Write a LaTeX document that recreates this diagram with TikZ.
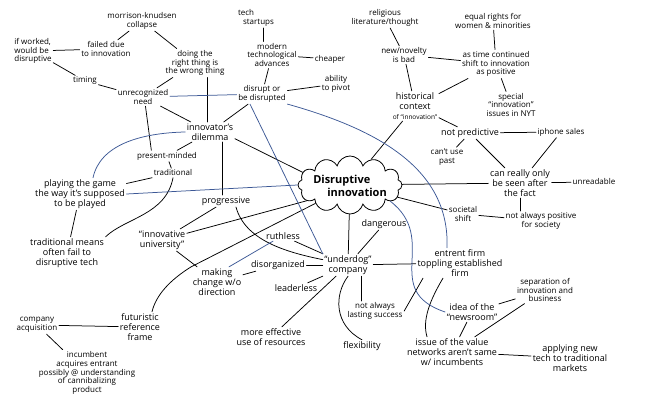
\documentclass[tikz,border=0pt]{standalone}
\usepackage{fontspec}
\setmainfont{Open Sans}
\usetikzlibrary{shapes.symbols}
\definecolor{inkblue}{RGB}{60,88,150}
\begin{document}
\begin{tikzpicture}[x=1pt,y=-1pt,
  every node/.style={font=\fontsize{8}{8.8}\selectfont, align=center, inner sep=1.5pt, text=black},
  big/.style={font=\fontsize{9}{10}\selectfont},
  link/.style={draw=black, line width=0.75pt, line cap=round},
  bluelink/.style={draw=inkblue, line width=0.75pt, line cap=round}]
\useasboundingbox (0,0) rectangle (650,406);
\fill[white] (0,0) rectangle (650,406);
% top-left cluster
\node (mk) at (142,21) {morrison-knudsen\\collapse};
\node[align=left] (ifw) at (33,51) {if worked,\\would be\\disruptive};
\node (fail) at (106,49) {failed due\\to innovation};
\node (doing) at (195,63) {doing the\\right thing is\\the wrong thing};
\node (timing) at (85,81) {timing};
\node (unrec) at (143,97) {unrecognized\\need};
\node[align=left] (tech) at (256,18) {tech\\\hspace*{5pt}startups};
\node (modern) at (272,55) {modern\\technological\\advances};
\node (cheaper) at (330,59) {cheaper};
\node (pivot) at (336,84) {ability\\to pivot};
\node (disrupt) at (262,94) {disrupt or\\be disrupted};
\node[big] (dilemma) at (210,132) {innovator's\\dilemma};
% top-right cluster
\node (relig) at (385,18) {religious\\literature/thought};
\node (novelty) at (404,55) {new/novelty\\is bad};
\node[big] (hist) at (415,106) {historical\\context\\{\fontsize{6.5}{7}\selectfont of “innovation”}};
\node (equal) at (493,21) {equal rights for\\women \& minorities};
\node (astime) at (496,64) {as time continued\\shift to innovation\\as positive};
\node (special) at (511,105) {special\\“innovation”\\issues in NYT};
\node[big] (notpred) at (470,133) {not predictive};
\node (iphone) at (561,132) {iphone sales};
\node (cantuse) at (447,157) {can't use\\past};
\node[big] (canreally) at (520,183) {can really only\\be seen after\\the fact};
\node (unread) at (594,182) {unreadable};
% central cloud
\node[cloud, draw, line width=0.8pt, cloud puffs=12, cloud ignores aspect, minimum width=104pt, minimum height=58pt, inner sep=0pt] (cloud) at (350,185) {};
\node[align=left, font=\bfseries\fontsize{11}{13}\selectfont] (cloudtext) at (350,186) {Disruptive\\\hspace*{14pt}innovation};
\node (societal) at (463,214) {societal\\shift};
\node (notpos) at (541,221) {not always positive\\for society};
% left middle
\node (present) at (167,156) {present-minded};
\node (trad) at (173,173) {traditional};
\node[big] (playing) at (80,194) {playing the game\\the way it's supposed\\to be played};
\node[big] (tradmeans) at (67,253) {traditional means\\often fail to\\disruptive tech};
\node[big] (progressive) at (226,201) {progressive};
\node[big] (univ) at (162,240) {“innovative\\university”};
\node[big] (ruthless) at (283,236) {ruthless};
\node[big] (dangerous) at (384,224) {dangerous};
\node[big] (underdog) at (348,265) {“underdog”\\company};
\node[big] (entrent) at (460,263) {entrent firm\\toppling established\\firm};
\node[big] (making) at (217,282) {making\\change w/o\\direction};
\node[big] (disorg) at (278,265) {disorganized};
\node[big] (leaderless) at (296,288) {leaderless};
% bottom
\node[big] (futur) at (140,327) {futuristic\\reference\\frame};
\node (company) at (37,325) {company\\acquisition};
\node (incumbent) at (87,373) {incumbent\\acquires entrant\\possibly @ understanding\\of cannibalizing\\product};
\node[big] (effective) at (271,337) {more effective\\use of resources};
\node (notlast) at (375,311) {not always\\lasting success};
\node[big] (flex) at (362,346) {flexibility};
\node[big] (newsroom) at (472,312) {idea of the\\“newsroom”};
\node (separation) at (545,290) {separation of\\innovation and\\business};
\node[big] (issue) at (452,352) {issue of the value\\networks aren't same\\w/ incumbents};
\node[big] (applying) at (570,358) {applying new\\tech to traditional\\markets};
% black connectors
\draw[link] (mk) -- (fail);
\draw[link] (mk) -- (doing);
\draw[link] (ifw) -- (fail);
\draw[link] (ifw) -- (timing);
\draw[link] (timing) -- (unrec);
\draw[link] (doing) -- (unrec);
\draw[link] (unrec) -- (dilemma);
\draw[link] (unrec.-75) -- (present.160);
\draw[link] ([xshift=12pt]doing.south) -- ([xshift=-3pt]dilemma.north);
\draw[link] (dilemma) -- (present);
\draw[link] (present) -- (trad);
\draw[link] (trad) -- (playing);
\draw[link] (trad.south) .. controls (166,215) and (125,218) .. (tradmeans.north east);
\draw[link] (playing) -- (tradmeans);
\draw[link] ([xshift=12pt]dilemma.south) -- ([xshift=-4pt]progressive.north);
\draw[link] (dilemma.-15) -- (cloud.165);
\draw[link] ([xshift=7pt]tech.south) -- ([xshift=-9pt]modern.north);
\draw[link] (modern) -- (cheaper);
\draw[link] (modern) -- (disrupt);
\draw[link] (disrupt) -- (pivot);
\draw[link] (disrupt) -- (dilemma);
\draw[link] (relig) -- (novelty);
\draw[link] (novelty) -- (hist);
\draw[link] (equal) -- (astime);
\draw[link] (novelty) -- (astime);
\draw[link] (hist) -- (astime);
\draw[link] (astime) -- (special);
\draw[link] (hist) -- (cloud);
\draw[link] (hist) -- (notpred);
\draw[link] (notpred) -- (iphone);
\draw[link] (notpred) -- (cantuse);
\draw[link] (notpred) -- (canreally);
\draw[link] (iphone) -- (canreally);
\draw[link] (canreally) -- (unread);
\draw[link] (canreally) -- (cloud);
\draw[link] (canreally.south) -- (canreally.south |- notpos.north);
\draw[link] (cloud) -- (societal);
\draw[link] (societal) -- (notpos);
\draw[link] (cloud) -- (underdog);
\draw[link] (dangerous) -- (underdog);
\draw[link] (ruthless) -- (underdog);
\draw[link] (disorg) -- (underdog);
\draw[link] (leaderless) -- (underdog);
\draw[link] (underdog) -- (entrent);
\draw[link] ([xshift=13pt]underdog.south) -- ([xshift=-14pt]notlast.north);
\draw[link] (underdog) -- (effective);
\draw[link] (underdog.south) .. controls (334,295) and (334,325) .. (flex.north);
\draw[link] ([xshift=10pt]progressive.south) .. controls (245,240) and (285,252) .. (underdog.168);
\draw[link] (univ) -- (progressive);
\draw[link] (univ) -- (cloud.200);
\draw[link] (making.north west) -- (cloud.208);
\draw[link] (univ) -- (making);
\draw[link] (making.north west) .. controls (170,280) and (156,295) .. ([xshift=12pt]futur.north);
\draw[link] (disorg) -- (making);
\draw[link] (futur) -- (company);
\draw[link] (company) -- (incumbent);
\draw[link] ([xshift=-37pt]entrent.south) -- (notlast.east);
\draw[link] ([xshift=-17pt]entrent.south) .. controls (430,300) and (422,320) .. ([xshift=-25pt]issue.north);
\draw[link] (newsroom) -- (separation);
\draw[link] (newsroom) -- (issue);
\draw[link] (issue) -- (applying);
\draw[link] (separation) -- (issue);
% blue connectors
\draw[bluelink] (unrec) -- (disrupt);
\draw[bluelink] ([xshift=13pt]playing.north) .. controls (100,145) and (140,133) .. (dilemma.west);
\draw[bluelink] (playing.east) -- (cloud.west);
\draw[bluelink] ([xshift=-12pt]disrupt.south) -- (underdog.north west);
\draw[bluelink] (disrupt.south east) .. controls (380,130) and (450,170) .. ([xshift=-13pt]entrent.north);
\draw[bluelink] (cloud.-22) .. controls (440,240) and (380,290) .. (newsroom.west);
\draw[bluelink] ([xshift=-10pt]ruthless.south) -- ([xshift=12pt]making.north);
\end{tikzpicture}
\end{document}
